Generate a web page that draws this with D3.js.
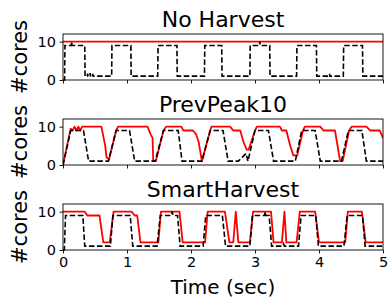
<!DOCTYPE html>
<html><head><meta charset="utf-8">
<script src="https://cdn.jsdelivr.net/npm/d3@7"></script>
<style>
body{margin:0;background:#fff}
svg{display:block}
text{font-family:"DejaVu Sans",sans-serif;fill:#000}
</style>
</head><body>
<svg id="c" width="388" height="304"></svg>
<script>
// ---- data ----
const panelTitles = ["No Harvest", "PrevPeak10", "SmartHarvest"];
const xTickValues = [0, 1, 2, 3, 4, 5];
const yTickValues = [0, 10];
const xLabel = "Time (sec)";
const yLabel = "#cores";

// No Harvest: demand (black dashed) and allocation (red)
const nhDemandT = [0,0.025,0.03,0.13,0.135,0.14,0.34,0.345,0.38,0.385,0.39,0.42,0.425,0.43,0.46,0.465,0.47,0.76,0.765,1.06,1.065,1.48,1.485,1.78,1.785,2.21,2.215,2.48,2.485,2.92,2.925,3.07,3.075,3.08,3.23,3.235,3.65,3.655,3.96,3.965,4.16,4.165,4.17,4.38,4.385,4.68,4.685,5];
const nhDemandV = [0,0,9,9,10,9,9,1,1,1.7,1,1,1.8,1,1,1.6,1,1,9,9,1,1,9,9,1,1,9,9,1,1,9,9,10,9,9,1,1,9,9,1,1,1.6,1,1,9,9,1,1];
const nhAllocT = [0, 5];
const nhAllocV = [10, 10];

// PrevPeak10
const ppDemandT = [0,0.12,0.32,0.40,0.71,0.83,1.04,1.12,1.44,1.57,1.80,1.86,2.17,2.30,2.50,2.58,2.74,2.80,2.86,2.89,3.00,3.21,3.29,3.63,3.73,3.94,4.02,4.35,4.46,4.67,4.74,5];
const ppDemandV = [0,9,9,1,1,9,9,1,1,9,9,1,1,9,9,1,1,2,3,1,9,9,1,1,9,9,1,1,9,9,1,1];
const ppAllocT = [0,0.12,0.15,0.18,0.21,0.24,0.27,0.30,0.33,0.60,0.66,0.68,0.72,0.83,0.86,1.32,1.37,1.40,1.41,1.45,1.57,1.61,1.85,1.88,2.03,2.08,2.12,2.17,2.30,2.32,2.61,2.66,2.77,2.82,2.87,2.90,3.00,3.03,3.39,3.42,3.49,3.55,3.60,3.66,3.75,3.78,4.02,4.07,4.25,4.33,4.37,4.47,4.51,4.74,4.80,4.95,5];
const ppAllocV = [0,9.5,9,10,9,10,9,10,10,10,5,2,1.5,9,10,10,8,7,1,1,9,10,10,9,9,8,6,1,9,10,10,9,9,6,4,4,9,10,10,9,9,5,2.5,2.5,9,10,10,9,9,1,1,9,10,10,9,9,7];

// SmartHarvest
const shDemandT = [0,0.02,0.04,0.31,0.34,0.74,0.78,1.05,1.09,1.47,1.52,1.69,1.705,1.72,1.79,1.83,2.19,2.23,2.49,2.54,2.92,2.96,3.15,3.16,3.17,3.22,3.26,3.43,3.445,3.46,3.68,3.72,3.95,3.99,4.39,4.44,4.68,4.72,5];
const shDemandV = [0,0,9,9,1,1,9,9,1,1,9,9,10,9,9,1,1,9,9,1,1,9,9,10,9,9,1,1,1.6,1,1,9,9,1,1,9,9,1,1];
const shAllocT = [0,0.34,0.38,0.57,0.63,0.73,0.79,1.07,1.12,1.16,1.21,1.49,1.53,1.82,1.87,2.22,2.26,2.53,2.60,2.66,2.70,2.74,2.92,2.97,3.25,3.29,3.42,3.46,3.49,3.65,3.70,3.94,4.00,4.41,4.45,4.67,4.73,5];
const shAllocV = [10,10,9,9,2,2,10,10,9,9,2,2,10,10,2,2,10,10,2,2,10,2,2,10,10,2,2,10,2,2,10,10,2,2,10,10,2,2];

const panels = [
  {demandT: nhDemandT, demandV: nhDemandV, allocT: nhAllocT, allocV: nhAllocV},
  {demandT: ppDemandT, demandV: ppDemandV, allocT: ppAllocT, allocV: ppAllocV},
  {demandT: shDemandT, demandV: shDemandV, allocT: shAllocT, allocV: shAllocV}
];

// ---- layout ----
const svg = d3.select("#c");
const left = 63, right = 383, ph = 46;
const tops = [34, 119, 204];

const x = d3.scaleLinear().domain([0, 5]).range([left, right]);

panels.forEach((p, i) => {
  const top = tops[i];
  const y = d3.scaleLinear().domain([0, 12]).range([top + ph, top]);
  const g = svg.append("g");

  const line = d3.line().x(d => x(d[0])).y(d => y(d[1]));
  const clipId = "clip" + i;
  svg.append("clipPath").attr("id", clipId).append("rect")
    .attr("x", left).attr("y", top - 1).attr("width", right - left).attr("height", ph + 2);

  const alloc = p.allocT.map((t, k) => [t, p.allocV[k]]);
  const demand = p.demandT.map((t, k) => [t, p.demandV[k]]);

  g.append("path").datum(alloc).attr("clip-path", `url(#${clipId})`)
    .attr("d", line).attr("fill", "none").attr("stroke", "#ff0000")
    .attr("stroke-width", 1.8).attr("stroke-linejoin", "round");
  g.append("path").datum(demand).attr("clip-path", `url(#${clipId})`)
    .attr("d", line).attr("fill", "none").attr("stroke", "#000")
    .attr("stroke-width", 1.6).attr("stroke-dasharray", "5.5,2.5");

  // frame
  g.append("rect").attr("x", left).attr("y", top).attr("width", right - left).attr("height", ph)
    .attr("fill", "none").attr("stroke", "#000").attr("stroke-width", 0.9);

  // axes
  const xa = d3.axisBottom(x).tickValues(xTickValues).tickSizeInner(3.5).tickSizeOuter(0).tickPadding(3.5)
    .tickFormat(i === 2 ? d3.format("d") : () => "");
  const xg = g.append("g").attr("transform", `translate(0,${top + ph})`).call(xa);
  xg.select(".domain").remove();
  xg.selectAll("line").attr("stroke", "#000").attr("stroke-width", 0.9);
  xg.selectAll("text").attr("font-size", 14.5).attr("font-family", "DejaVu Sans").attr("fill", "#000");

  const ya = d3.axisLeft(y).tickValues(yTickValues).tickSizeInner(3.5).tickSizeOuter(0).tickPadding(3.5)
    .tickFormat(d3.format("d"));
  const yg = g.append("g").attr("transform", `translate(${left},0)`).call(ya);
  yg.select(".domain").remove();
  yg.selectAll("line").attr("stroke", "#000").attr("stroke-width", 0.9);
  yg.selectAll("text").attr("font-size", 14.5).attr("font-family", "DejaVu Sans").attr("fill", "#000");

  // title
  g.append("text").attr("x", (left + right) / 2).attr("y", top - 7)
    .attr("text-anchor", "middle").attr("font-size", 22).text(panelTitles[i]);

  // y label
  g.append("text").attr("transform", `translate(27,${top + ph / 2}) rotate(-90)`)
    .attr("text-anchor", "middle").attr("font-size", 21).text(yLabel);
});

svg.append("text").attr("x", (left + right) / 2).attr("y", 294)
  .attr("text-anchor", "middle").attr("font-size", 20).text(xLabel);
</script>
</body></html>
